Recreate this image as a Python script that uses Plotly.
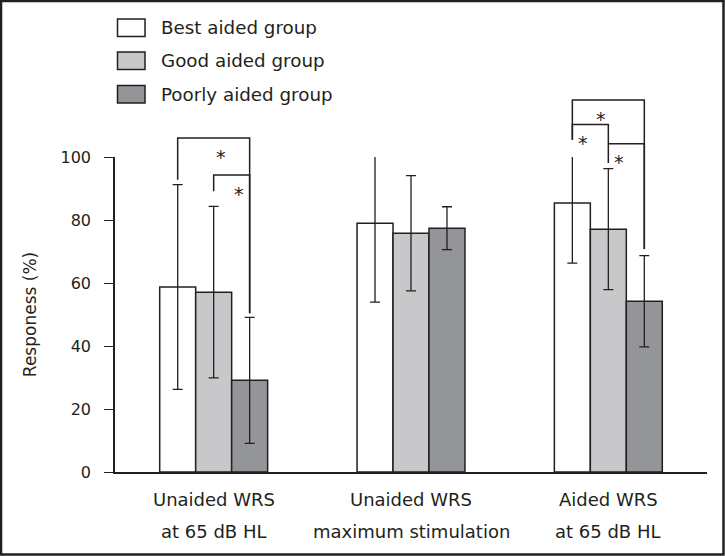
import plotly.graph_objects as go

# ---------------- data ----------------
categories = [["Unaided WRS", "at 65 dB HL"],
              ["Unaided WRS", "maximum stimulation"],
              ["Aided WRS", "at 65 dB HL"]]
series_names = ["Best aided group", "Good aided group", "Poorly aided group"]
series_colors = ["#ffffff", "#c8c8ca", "#939598"]
best_mean = [58.7, 79.0, 85.4]
best_sd = [32.5, 25.1, 19.1]
good_mean = [57.1, 75.8, 77.1]
good_sd = [27.2, 18.3, 19.2]
poor_mean = [29.1, 77.4, 54.2]
poor_sd = [20.0, 6.8, 14.5]
y_ticks = [0, 20, 40, 60, 80, 100]
y_title = "Responess (%)"

# significance brackets (group, left series, right series, top, left leg end, right leg end)
sig_group = [0, 0, 2, 2, 2]
sig_left = [0, 1, 0, 0, 1]
sig_right = [2, 2, 2, 1, 2]
sig_top = [106.0, 94.3, 118.1, 110.3, 104.2]
sig_left_end = [92.8, 89.1, 105.5, 105.5, 104.2]
sig_right_end = [50.4, 50.4, 70.8, 98.1, 70.8]
sig_label = "*"

# ---------------- layout constants ----------------
W_FIG, H_FIG = 725, 556
L, R, T, B = 115, 18, 157, 84
PW, PH = W_FIG - L - R, H_FIG - T - B
X_RANGE = [-0.5, 2.5]
Y_RANGE = [0, 100]
BARGAP = 0.453
INK = "#231f20"
FONT = "DejaVu Sans"


def px_x(px):
    return (px - L) / PW


def px_y(py):
    return (H_FIG - B - py) / PH


def data_x(x):
    return (x - X_RANGE[0]) / (X_RANGE[1] - X_RANGE[0])


def data_y(y):
    return (y - Y_RANGE[0]) / (Y_RANGE[1] - Y_RANGE[0])


means = [best_mean, good_mean, poor_mean]
sds = [best_sd, good_sd, poor_sd]
xs = list(range(len(categories)))

fig = go.Figure()
for name, color, m, s in zip(series_names, series_colors, means, sds):
    fig.add_trace(go.Bar(
        x=xs, y=m, name=name,
        marker=dict(color=color, line=dict(color=INK, width=1.5)),
        error_y=dict(type="data", array=s, visible=True, color=INK,
                     thickness=1.3, width=5),
        showlegend=False,
    ))

bar_w = (1 - BARGAP) / len(series_names)


def bar_center(g, k):
    return g + (k - (len(series_names) - 1) / 2) * bar_w


shapes = []
annotations = []
for g, a, b, top, le, re in zip(sig_group, sig_left, sig_right, sig_top,
                                sig_left_end, sig_right_end):
    xl = data_x(bar_center(g, a))
    xr = data_x(bar_center(g, b))
    path = (f"M{xl},{data_y(le)} L{xl},{data_y(top)} "
            f"L{xr},{data_y(top)} L{xr},{data_y(re)}")
    shapes.append(dict(type="path", xref="paper", yref="paper", path=path,
                       line=dict(color=INK, width=1.5)))
    annotations.append(dict(x=(xl + xr) / 2, y=data_y(top - 4.3),
                            xref="paper", yref="paper", text=sig_label,
                            showarrow=False, yanchor="middle", yshift=-5,
                            font=dict(family=FONT, size=19, color=INK)))

# category labels (two lines)
for g, (l1, l2) in zip(xs, categories):
    for txt, py in ((l1, 499), (l2, 531)):
        annotations.append(dict(x=g, y=px_y(py), xref="x", yref="paper",
                                text=txt, showarrow=False, yanchor="middle",
                                font=dict(family=FONT, size=18, color=INK)))

# legend (manual)
leg_rows = [19, 52, 85.5]
for name, color, top in zip(series_names, series_colors, leg_rows):
    shapes.append(dict(type="rect", xref="paper", yref="paper",
                       x0=px_x(117.5), x1=px_x(145), y0=px_y(top),
                       y1=px_y(top + 17.5), fillcolor=color,
                       line=dict(color=INK, width=1.5)))
    annotations.append(dict(x=px_x(159), y=px_y(top + 8.75), xref="paper",
                            yref="paper", text=name, showarrow=False,
                            xanchor="left", yanchor="middle",
                            font=dict(family=FONT, size=18.3, color=INK)))

# outer frame
shapes.append(dict(type="rect", xref="paper", yref="paper",
                   x0=px_x(1), x1=px_x(W_FIG - 1.5), y0=px_y(H_FIG - 1.5),
                   y1=px_y(1), line=dict(color=INK, width=2.5)))

fig.update_layout(
    width=W_FIG, height=H_FIG,
    margin=dict(l=L, r=R, t=T, b=B, pad=0),
    paper_bgcolor="white", plot_bgcolor="white",
    barmode="group", bargap=BARGAP, bargroupgap=0,
    font=dict(family=FONT, color=INK),
    shapes=shapes, annotations=annotations,
    showlegend=False,
)
fig.update_xaxes(range=X_RANGE, showline=True, linecolor=INK, linewidth=1.5,
                 showticklabels=False, ticks="", showgrid=False,
                 zeroline=False, automargin=False, fixedrange=True)
fig.update_yaxes(range=Y_RANGE, tickvals=y_ticks, showline=True,
                 linecolor=INK, linewidth=1.5, ticks="outside", ticklen=9,
                 tickwidth=1.3, tickcolor=INK, showgrid=False, zeroline=False,
                 tickfont=dict(family=FONT, size=16, color=INK),
                 ticklabelstandoff=10,
                 title=dict(text=y_title, font=dict(family=FONT, size=17,
                                                    color=INK), standoff=20),
                 automargin=False, fixedrange=True)

fig.write_html("out.html")
